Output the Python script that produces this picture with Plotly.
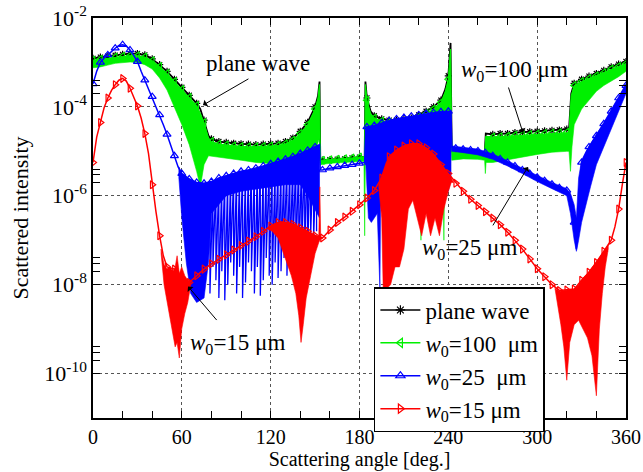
import plotly.graph_objects as go

# ---------------- data (log10 of scattered intensity) ----------------
black_angle = [0,5,10,15,20,25,30,35,40,45,50,55,60,65,70,72.5,75,78,80,85,90,95,100,105,110,115,120,125,130,135,140,145,150,152,153,153.5,155,160,165,170,175,180,183.5,184,185,187.5,190,195,200,205,210,215,220,225,230,235,238,240,241.5,242.3,245,250,255,260,264.5,265.3,270,275,280,285,290,295,300,305,310,315,320,321.5,323,325,330,335,340,345,350,355,360]
black_val = [-2.91,-2.88,-2.86,-2.84,-2.82,-2.8,-2.8,-2.83,-2.92,-3.05,-3.2,-3.38,-3.56,-3.74,-3.92,-4.05,-4.3,-4.65,-4.72,
             -4.78,-4.8,-4.82,-4.83,-4.84,-4.85,-4.84,-4.83,-4.82,-4.78,-4.7,-4.55,-4.35,-4.0,
             -3.75,-3.43,-5.2,
             -5.2,-5.19,-5.18,-5.17,-5.15,-5.13,
             -5.12,-3.43,-3.8,-4.1,
             -4.2,-4.27,-4.3,-4.3,-4.28,-4.25,-4.18,-4.1,-4.0,-3.85,
             -3.6,-3.3,-2.56,-5.0,
             -5.02,-5.04,-5.05,-5.06,
             -5.07,-4.6,
             -4.62,-4.6,-4.6,-4.58,-4.57,-4.56,-4.55,-4.54,-4.53,-4.52,-4.5,
             -4.52,-3.7,-3.47,
             -3.38,-3.31,-3.25,-3.18,-3.1,-3.04,-2.98]

green_angle = list(black_angle)
green_val = [-2.95,-2.93,-2.9,-2.88,-2.86,-2.85,-2.85,-2.88,-2.96,-3.09,-3.25,-3.43,-3.61,-3.79,-3.97,-4.15,-4.35,-4.7,-4.78,
             -4.84,-4.86,-4.88,-4.89,-4.9,-4.9,-4.89,-4.88,-4.87,-4.83,-4.75,-4.6,-4.4,-4.05,
             -3.8,-3.5,-5.2,
             -5.2,-5.19,-5.18,-5.17,-5.15,-5.13,
             -5.12,-3.5,-3.85,-4.15,
             -4.25,-4.32,-4.35,-4.35,-4.33,-4.3,-4.23,-4.15,-4.05,-3.9,
             -3.65,-3.38,-2.7,-5.0,
             -5.02,-5.04,-5.05,-5.06,
             -5.07,-4.66,
             -4.68,-4.67,-4.66,-4.64,-4.63,-4.62,-4.61,-4.6,-4.59,-4.58,-4.57,
             -4.58,-3.75,-3.52,
             -3.43,-3.36,-3.3,-3.23,-3.15,-3.09,-3.03]
green_lo_angle = [0,5,10,15,20,25,30,35,40,45,50,55,60,65,70,72.5,75,78,80,90,100,110,120,130,140,145,150,152,153,153.5,
                  160,170,180,183,183.5,184,185,187.5,190,195,200,210,220,221,221.5,222,230,236.5,237,237.5,240,241.5,242.3,
                  250,260,264.5,265,265.5,270,280,290,300,310,320,321.5,322.5,323.5,325,330,335,340,345,350,355,360]
green_lo_val = [-3.12,-3.1,-3.06,-3.02,-3.0,-2.99,-3.0,-3.05,-3.15,-3.35,-3.62,-4.0,-4.4,-4.85,-5.45,-5.8,-5.3,-5.1,-5.1,
                -5.15,-5.2,-5.25,-5.28,-5.3,-5.28,-5.2,-5.0,-4.8,-4.7,-5.3,
                -5.27,-5.25,-5.23,-5.23,-6.9,-5.0,-4.95,-4.95,-5.0,-5.1,-5.2,-5.2,-5.2,-5.2,-7.0,-5.2,-5.2,-5.2,-7.0,-5.2,-4.9,-4.6,-5.2,
                -5.17,-5.18,-5.2,-5.5,-5.25,-5.25,-5.2,-5.13,-5.07,-5.02,-5.0,-5.0,-5.45,-4.9,-4.4,-4.05,-3.85,-3.65,-3.52,-3.42,-3.32,-3.2]

blue_angle = [0,2.5,5,7.5,10,12.5,15,17.5,20,22.5,25,27.5,30,32.5,35,37.5,40,42.5,45,47.5,50,52.5,55,57.5,
              60,65,70,75,80,85,90,95,100,105,110,115,120,125,130,135,140,145,150,
              153,153.5,155,160,165,170,175,180,183.5,184.3,
              185,190,195,200,205,210,215,220,225,230,235,240,241.8,242.4,
              245,250,255,260,265,270,275,280,285,290,295,300,305,310,315,320,
              322.5,325,326.5,328,330,335,340,345,350,355,360]
blue_val = [-3.48,-3.2,-3.0,-2.9,-2.83,-2.75,-2.68,-2.62,-2.6,-2.63,-2.72,-2.84,-2.98,-3.2,-3.4,-3.58,-3.77,-3.97,-4.18,-4.4,-4.62,-4.86,-5.1,-5.35,
            -5.5,-5.62,-5.7,-5.72,-5.68,-5.6,-5.55,-5.5,-5.45,-5.42,-5.38,-5.33,-5.28,-5.23,-5.18,-5.12,-5.05,-4.98,-4.9,
            -4.85,-5.42,-5.42,-5.38,-5.35,-5.32,-5.3,-5.27,-5.25,-4.45,
            -4.45,-4.42,-4.36,-4.31,-4.27,-4.24,-4.21,-4.18,-4.15,-4.13,-4.11,-4.1,-4.1,-4.92,
            -4.93,-4.95,-4.97,-4.99,-5.03,-5.1,-5.17,-5.25,-5.33,-5.42,-5.5,-5.58,-5.66,-5.74,-5.82,-5.88,
            -6.0,-6.6,-7.2,-6.2,-5.25,-4.9,-4.65,-4.38,-4.1,-3.8,-3.52]
blue_band_angle = [58,60,63,66,70,75,78,80,90,100,110,120,130,140,145,150,153, None,
                   183.5,184.3,186,188,190,192,193.8,194.2,196,200,205,210,215,220,225,230,235,240,241.8, None,
                   242.4,250,260,270,280,290,300,310,320, None,
                   320,322.5,325,326.5,328,330,333,336,340,345,350,355,360]
blue_band_hi = [-5.35,-5.5,-5.58,-5.64,-5.7,-5.72,-5.7,-5.68,-5.55,-5.45,-5.38,-5.28,-5.18,-5.05,-4.98,-4.9,-4.85, None,
                -5.25,-4.45,-4.45,-4.44,-4.42,-4.4,-4.39,-4.38,-4.36,-4.31,-4.27,-4.24,-4.21,-4.18,-4.15,-4.13,-4.11,-4.1,-4.1, None,
                -4.88,-4.91,-4.95,-5.06,-5.21,-5.38,-5.54,-5.7,-5.84, None,
                -5.85,-5.95,-6.2,-6.5,-5.6,-5.2,-5.0,-4.85,-4.62,-4.35,-4.05,-3.75,-3.48]
blue_band_lo = [-5.6,-6.5,-7.5,-8.2,-8.4,-8.3,-7.5,-6.4,-6.0,-5.9,-5.85,-5.8,-5.75,-5.75,-6.0,-6.3,-6.5, None,
                -5.3,-5.3,-6.5,-6.6,-6.5,-6.4,-8.1,-6.3,-5.8,-5.6,-5.5,-5.5,-5.5,-5.5,-5.6,-5.7,-5.8,-5.9,-5.6, None,
                -5.0,-5.03,-5.08,-5.18,-5.33,-5.5,-5.68,-5.84,-6.0, None,
                -6.0,-6.4,-7.0,-7.25,-7.0,-6.6,-6.2,-5.8,-5.3,-4.9,-4.5,-4.1,-3.7]
blue_spike_angle = [79,81,83,85,87,89,91,93,95,97,99,101,103,105,107,109,111,113,115,117,119,121,123,125,127,129,131,133,135,137,139,141,143,145,147,149,151]
blue_spike_hi = [-5.68,-5.66,-5.63,-5.6,-5.59,-5.57,-5.55,-5.54,-5.52,-5.5,-5.47,-5.45,-5.44,-5.43,-5.41,-5.4,-5.38,-5.36,-5.33,-5.31,-5.29,-5.27,-5.26,-5.24,-5.21,-5.19,-5.17,-5.15,-5.12,-5.1,-5.07,-5.04,-5.02,-4.98,-4.95,-4.91,-4.88]
blue_spike_lo = [-8.2,-7.6,-7.9,-8.3,-7.7,-8.35,-8.0,-7.5,-7.8,-8.2,-7.6,-8.3,-7.95,-7.5,-7.7,-8.2,-7.6,-8.25,-7.9,-7.4,-7.8,-8.0,-7.5,-7.85,-7.7,-7.4,-7.8,-7.6,-7.3,-7.5,-7.6,-7.2,-7.3,-7.2,-6.9,-7.0,-6.8]

red_angle = [0,2.5,5,7.5,10,12.5,15,17.5,20,22.5,25,27.5,30,32.5,35,37.5,40,42.5,45,47.5,50,
             55,60,65,70,75,80,85,90,95,100,105,110,115,120,125,130,135,140,145,150,155,160,165,170,175,180,
             185,190,195,200,205,210,215,220,225,230,235,240,245,250,255,260,265,270,275,280,285,290,295,300,
             305,310,315,320,325,330,335,340,345,350,352.5,355,357.5,360]
red_val = [-5.25,-4.68,-4.35,-4.02,-3.8,-3.63,-3.5,-3.4,-3.36,-3.42,-3.58,-3.78,-3.98,-4.25,-4.6,-5.05,-5.75,-6.35,-6.9,-7.35,-7.6,
           -7.65,-7.85,-7.95,-7.8,-7.65,-7.53,-7.43,-7.33,-7.22,-7.12,-7.02,-6.92,-6.8,-6.68,-6.6,-6.6,-6.64,-6.72,-6.8,-6.9,-6.95,-6.77,-6.6,-6.48,-6.35,-6.2,
           -6.05,-5.88,-5.6,-5.12,-4.97,-4.88,-4.83,-4.83,-4.92,-5.06,-5.3,-5.5,-5.72,-5.9,-6.08,-6.22,-6.36,-6.5,-6.65,-6.82,-7.0,-7.2,-7.42,-7.64,
           -7.82,-8.0,-8.13,-8.12,-8.1,-7.9,-7.72,-7.5,-7.25,-7.0,-6.7,-6.3,-5.75,-5.25]
red_band_angle = [46,48,50,52,54,55.5,56.8,58.3,59.9,62,64,66, None,
                  118,121,125,128,131,134,137,139,140.5,142,144,147,150,152.5,153.2,153.8,155, None,
                  193,195,196,198,201,204,207,210,213,216,219,222,225,228,231,234,237,240,242,243.5, None,
                  312,314,316,318,320,322,325,328,331,334,337,340,342,344,346,348]
red_band_hi = [-7.2,-7.55,-7.65,-7.6,-7.7,-7.6,-7.35,-7.75,-7.6,-7.8,-7.9,-7.9, None,
               -6.72,-6.65,-6.6,-6.58,-6.6,-6.62,-6.65,-6.7,-6.72,-6.75,-6.78,-6.83,-6.88,-6.92,-5.8,-6.95,-6.95, None,
               -5.75,-5.55,-5.4,-5.25,-5.1,-5.0,-4.93,-4.88,-4.85,-4.82,-4.82,-4.86,-4.92,-5.0,-5.1,-5.22,-5.35,-5.5,-5.6,-5.68, None,
               -8.08,-8.13,-8.15,-8.13,-8.12,-8.12,-8.1,-8.0,-7.85,-7.75,-7.62,-7.5,-7.4,-7.3,-7.2,-7.1]
red_band_lo = [-7.3,-8.0,-8.4,-8.8,-9.1,-9.4,-9.3,-9.65,-9.0,-8.65,-8.4,-8.0, None,
               -6.74,-6.8,-6.95,-7.2,-7.5,-7.8,-8.2,-8.7,-9.3,-8.9,-8.3,-7.8,-7.3,-7.05,-7.0,-6.98,-6.96, None,
               -5.8,-6.5,-8.1,-8.1,-8.0,-7.6,-7.6,-7.2,-6.3,-6.1,-6.5,-6.9,-6.4,-6.9,-6.5,-6.9,-6.3,-5.9,-5.7,-5.7, None,
               -8.1,-8.5,-8.9,-9.4,-10.15,-9.3,-8.9,-8.8,-9.0,-9.2,-9.6,-10.5,-9.0,-8.2,-7.6,-7.2]

x_ticks = [0, 60, 120, 180, 240, 300, 360]
y_tick_exp = [-10, -8, -6, -4, -2]
legend_names = ["plane wave", "<i>w</i><sub>0</sub>=100\u00a0 μm", "<i>w</i><sub>0</sub>=25\u00a0 μm", "<i>w</i><sub>0</sub>=15 μm"]

# ---------------- helpers ----------------
SERIF = "Liberation Serif"
BLACK, GREEN, BLUE, RED = "#000000", "#00f000", "#0000ff", "#ff0000"


def pw(vals):
    return [None if v is None else 10 ** v for v in vals]


def band_xy(ang, hi, lo):
    xs, ys, seg = [], [], []
    for a, h, l in zip(list(ang) + [None], list(hi) + [None], list(lo) + [None]):
        if a is None:
            if seg:
                sa = [s[0] for s in seg]
                sh = [s[1] for s in seg]
                sl = [s[2] for s in seg]
                xs += sa + sa[::-1] + [sa[0], None]
                ys += pw(sh) + pw(sl[::-1]) + [10 ** sh[0], None]
            seg = []
        else:
            seg.append((a, h, l))
    return xs, ys


def every5(ang, val):
    sel = [(a, v) for a, v in zip(ang, val) if abs(a / 5 - round(a / 5)) < 1e-9]
    return [s[0] for s in sel], pw([s[1] for s in sel])


fig = go.Figure()


def add_markers(ang, val, color, symbol, size=7):
    mx, my = every5(ang, val)
    fig.add_trace(go.Scatter(x=mx, y=my, mode="markers", showlegend=False, hoverinfo="skip",
                             marker=dict(symbol=symbol, size=size, color=color,
                                         line=dict(color=color, width=1.2))))


# black (plane wave)
fig.add_trace(go.Scatter(x=black_angle, y=pw(black_val), mode="lines", showlegend=False,
                         line=dict(color=BLACK, width=1.8)))
add_markers(black_angle, black_val, BLACK, "asterisk-open", 6)

# green (w0=100)
gx = green_angle + green_lo_angle[::-1]
gy = pw(green_val) + pw(green_lo_val[::-1])
fig.add_trace(go.Scatter(x=gx, y=gy, mode="lines", fill="toself", fillcolor=GREEN, showlegend=False,
                         line=dict(color=GREEN, width=0.6), hoverinfo="skip"))
fig.add_trace(go.Scatter(x=green_angle, y=pw(green_val), mode="lines", showlegend=False,
                         line=dict(color=GREEN, width=1)))
add_markers(green_angle, green_val, GREEN, "triangle-left-open")

# blue (w0=25)
bx, by = band_xy(blue_band_angle, blue_band_hi, blue_band_lo)
fig.add_trace(go.Scatter(x=bx, y=by, mode="lines", fill="toself", fillcolor=BLUE, showlegend=False,
                         line=dict(color=BLUE, width=0.6), hoverinfo="skip"))
zx, zy = [], []
for a, h, l in zip(blue_spike_angle, blue_spike_hi, blue_spike_lo):
    zx += [a, a]
    zy += [10 ** h, 10 ** l]
fig.add_trace(go.Scatter(x=zx, y=zy, mode="lines", showlegend=False, line=dict(color=BLUE, width=1.3),
                         hoverinfo="skip"))
fig.add_trace(go.Scatter(x=blue_angle, y=pw(blue_val), mode="lines", showlegend=False,
                         line=dict(color=BLUE, width=1.5)))
add_markers(blue_angle, blue_val, BLUE, "triangle-up-open")

# red (w0=15)
rx, ry = band_xy(red_band_angle, red_band_hi, red_band_lo)
fig.add_trace(go.Scatter(x=rx, y=ry, mode="lines", fill="toself", fillcolor=RED, showlegend=False,
                         line=dict(color=RED, width=0.6), hoverinfo="skip"))
fig.add_trace(go.Scatter(x=red_angle, y=pw(red_val), mode="lines", showlegend=False,
                         line=dict(color=RED, width=1.5)))
add_markers(red_angle, red_val, RED, "triangle-right-open")

# legend entries
for name, color, sym in zip(legend_names, [BLACK, GREEN, BLUE, RED],
                            ["asterisk-open", "triangle-left-open", "triangle-up-open", "triangle-right-open"]):
    fig.add_trace(go.Scatter(x=[None], y=[None], mode="lines+markers", name=name,
                             line=dict(color=color, width=1.5),
                             marker=dict(symbol=sym, size=8, color=color, line=dict(color=color, width=1.2))))

# annotations (y given in log10 units on log axis)
ann_font = dict(family=SERIF, size=23, color="black")
texts = [
    ("plane wave", 111.4, -3.03, 106, -3.35, 74.3, -3.96),
    ("<i>w</i><sub>0</sub>=100 μm", 285, -3.19, 280.3, -3.53, 290.4, -4.58),
    ("<i>w</i><sub>0</sub>=25 μm", 254.6, -7.19, 269.5, -6.7, 293.8, -5.35),
    ("<i>w</i><sub>0</sub>=15 μm", 97.9, -9.33, 84.4, -8.83, 64.2, -8.04),
]
for t, tx, ty, ax_, ay_, hx, hy in texts:
    fig.add_annotation(x=tx, y=ty, text=t, showarrow=False, font=ann_font, xanchor="center", yanchor="middle")
    fig.add_annotation(x=hx, y=hy, ax=ax_, ay=ay_, axref="x", ayref="y", xref="x", yref="y", text="",
                       showarrow=True, arrowhead=1, arrowsize=1.3, arrowwidth=1, arrowcolor="black")

tick_font = dict(family=SERIF, size=20, color="black")
fig.update_layout(
    width=643, height=472,
    margin=dict(l=93, r=17, t=18, b=54),
    paper_bgcolor="white", plot_bgcolor="white",
    font=dict(family=SERIF, color="black"),
    showlegend=True,
    legend=dict(x=0.527, y=0.3275, xanchor="left", yanchor="top", bgcolor="white",
                bordercolor="black", borderwidth=1.5, font=dict(family=SERIF, size=23, color="black"),
                itemwidth=40, tracegroupgap=0),
    xaxis=dict(range=[0, 360], tickvals=x_ticks, ticks="inside", ticklen=7, tickwidth=1, tickcolor="black",
               showline=True, linecolor="black", linewidth=1.5, mirror="ticks",
               showgrid=True, gridcolor="#555555", griddash="dot", gridwidth=1, zeroline=False,
               minor=dict(tickvals=[20, 40, 80, 100, 140, 160, 200, 220, 260, 280, 320, 340], ticks="inside",
                          ticklen=7, tickcolor="black", showgrid=False),
               tickfont=tick_font, automargin=False,
               title=dict(text="Scattering angle [deg.]", font=dict(family=SERIF, size=20, color="black"), standoff=2)),
    yaxis=dict(type="log", range=[-11, -2], tickvals=[10 ** e for e in y_tick_exp],
               ticktext=["10<sup>%d</sup>" % e for e in y_tick_exp],
               ticks="inside", ticklen=7, tickwidth=1, tickcolor="black",
               showline=True, linecolor="black", linewidth=1.5, mirror="ticks",
               showgrid=True, gridcolor="#555555", griddash="dot", gridwidth=1, zeroline=False,
               minor=dict(tickvals=[m * 10 ** e for e in y_tick_exp[:-1] for m in (2, 3, 4)], ticks="inside",
                          ticklen=7, tickcolor="black", showgrid=False),
               tickfont=dict(family=SERIF, size=22, color="black"), automargin=False,
               title=dict(text="Scattered intensity", font=dict(family=SERIF, size=22, color="black"), standoff=10)),
)

fig.write_html("out.html", config={"displayModeBar": False},
               post_script="document.body.style.margin='0px';document.body.style.padding='0px';")
